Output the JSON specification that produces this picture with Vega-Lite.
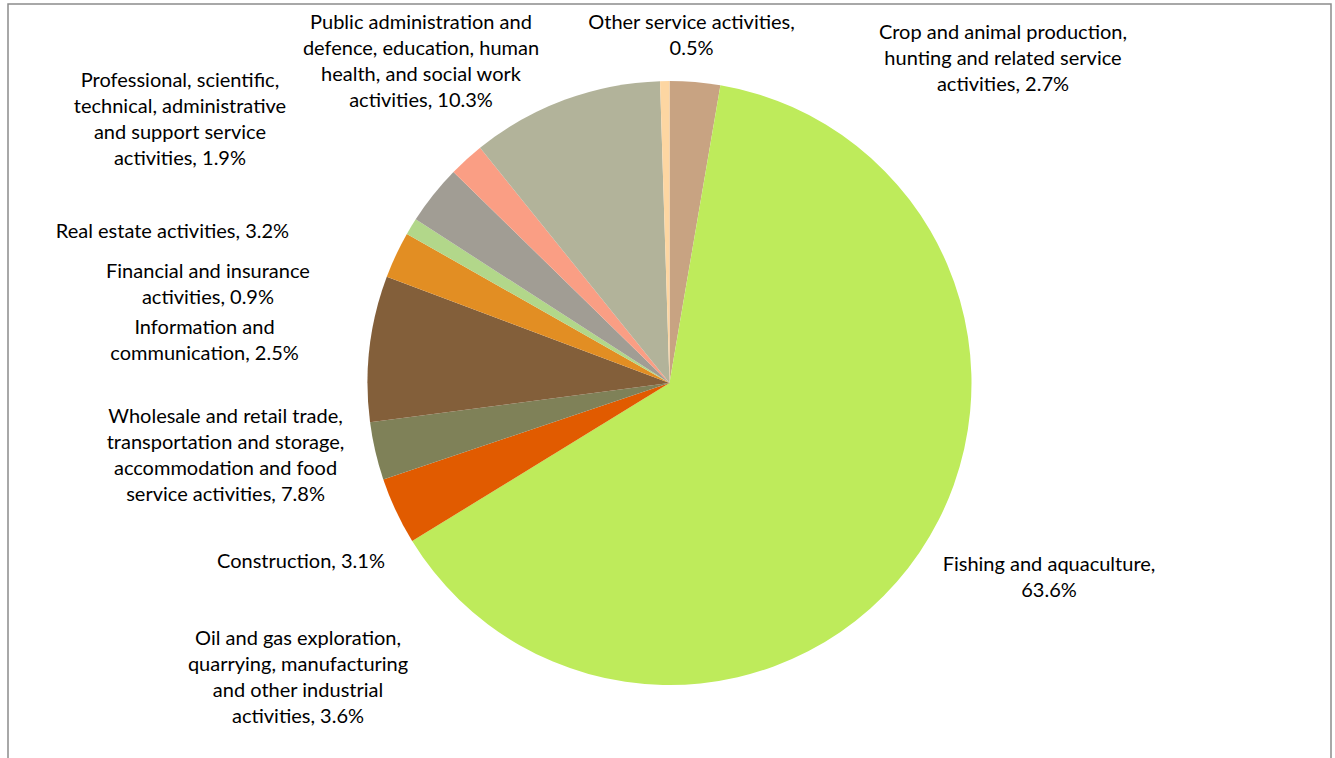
{
  "$schema": "https://vega.github.io/schema/vega-lite/v6.json",
  "width": 1323,
  "height": 758,
  "autosize": "none",
  "padding": {"left": 8, "top": 4, "right": 4, "bottom": 0},
  "background": "white",
  "config": {"view": {"stroke": null}},
  "data": {
    "values": [
      {"order": 1, "category": "Crop and animal production, hunting and related service activities", "value": 2.7, "label": "Crop and animal production,\nhunting and related service\nactivities, 2.7%"},
      {"order": 2, "category": "Fishing and aquaculture", "value": 63.6, "label": "Fishing and aquaculture,\n63.6%"},
      {"order": 3, "category": "Oil and gas exploration, quarrying, manufacturing and other industrial activities", "value": 3.6, "label": "Oil and gas exploration,\nquarrying, manufacturing\nand other industrial\nactivities, 3.6%"},
      {"order": 4, "category": "Construction", "value": 3.1, "label": "Construction, 3.1%"},
      {"order": 5, "category": "Wholesale and retail trade, transportation and storage, accommodation and food service activities", "value": 7.8, "label": "Wholesale and retail trade,\ntransportation and storage,\naccommodation and food\nservice activities, 7.8%"},
      {"order": 6, "category": "Information and communication", "value": 2.5, "label": "Information and\ncommunication, 2.5%"},
      {"order": 7, "category": "Financial and insurance activities", "value": 0.9, "label": "Financial and insurance\nactivities, 0.9%"},
      {"order": 8, "category": "Real estate activities", "value": 3.2, "label": "Real estate activities, 3.2%"},
      {"order": 9, "category": "Professional, scientific, technical, administrative and support service activities", "value": 1.9, "label": "Professional, scientific,\ntechnical, administrative\nand support service\nactivities, 1.9%"},
      {"order": 10, "category": "Public administration and defence, education, human health, and social work activities", "value": 10.3, "label": "Public administration and\ndefence, education, human\nhealth, and social work\nactivities, 10.3%"},
      {"order": 11, "category": "Other service activities", "value": 0.5, "label": "Other service activities,\n0.5%"}
    ]
  },
  "layer": [
    {
      "mark": {"type": "arc", "outerRadius": 302},
      "encoding": {
        "theta": {"field": "value", "type": "quantitative", "stack": true},
        "order": {"field": "order", "type": "quantitative"},
        "color": {
          "field": "order",
          "type": "nominal",
          "legend": null,
          "scale": {
            "domain": [1, 2, 3, 4, 5, 6, 7, 8, 9, 10, 11],
            "range": ["#C8A382", "#BEEB5B", "#E15B00", "#7F8158", "#835F3A", "#E28E23", "#B2D78A", "#A19D94", "#FA9E84", "#B2B39A", "#FDD6A2"]
          }
        }
      }
    },
    {
      "mark": {"type": "text", "font": "Lato", "fontSize": 20, "lineBreak": "\n", "lineHeight": 26, "align": "center", "baseline": "middle", "color": "#000000"},
      "encoding": {
        "theta": {
          "field": "order", "type": "quantitative", "stack": null,
          "scale": {"type": "linear", "zero": false, "domain": [1, 2, 3, 4, 5, 6, 7, 8, 9, 10, 11], "range": [0.7613, 2.019, 4.1081, 4.2602, 4.6349, 4.8302, 4.9484, 5.0082, 5.2651, 5.6796, 6.3443]}
        },
        "radius": {
          "field": "order", "type": "quantitative",
          "scale": {"type": "linear", "zero": false, "domain": [1, 2, 3, 4, 5, 6, 7, 8, 9, 10, 11], "range": [483.4, 421.1, 451.4, 409.7, 445.3, 468.2, 474.7, 519.6, 575.2, 437.8, 360.7]}
        },
        "text": {"field": "label", "type": "nominal"}
      }
    },
    {
      "data": {"values": [{"frame": "chart area"}]},
      "mark": {"type": "rect", "fill": null, "fillOpacity": 0, "stroke": "#8c8c8c", "strokeWidth": 1.5},
      "encoding": {}
    }
  ],
  "resolve": {"scale": {"theta": "independent", "radius": "independent"}}
}
